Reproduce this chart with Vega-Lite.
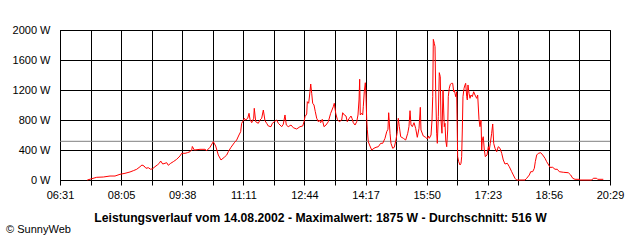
{
  "$schema": "https://vega.github.io/schema/vega-lite/v6.json",
  "autosize": "none",
  "width": 550,
  "height": 150,
  "padding": {"left": 60, "top": 30, "right": 30, "bottom": 60},
  "background": "white",
  "config": {
    "font": "Liberation Sans",
    "view": {"stroke": "black", "strokeWidth": 1},
    "axis": {
      "labelFont": "Liberation Sans",
      "labelFontSize": 11,
      "labelColor": "black",
      "grid": true,
      "gridColor": "black",
      "gridOpacity": 1,
      "gridWidth": 1,
      "domainColor": "black",
      "tickColor": "black"
    }
  },
  "title": {
    "text": "© SunnyWeb",
    "orient": "bottom",
    "anchor": "start",
    "frame": "bounds",
    "font": "Liberation Sans",
    "fontSize": 11,
    "fontWeight": "normal",
    "color": "black",
    "offset": 1,
    "dx": -6
  },
  "layer": [
    {
      "data": {"values": [{"avg": 516}]},
      "mark": {"type": "rule", "color": "#808080", "strokeWidth": 1},
      "encoding": {
        "y": {
          "field": "avg",
          "type": "quantitative",
          "scale": {"domain": [0, 2000], "nice": false},
          "axis": {
            "title": null,
            "values": [0, 400, 800, 1200, 1600, 2000],
            "labelExpr": "datum.value + ' W'",
            "ticks": false,
            "labelPadding": 10,
            "labelOverlap": false,
            "labelFlush": false
          }
        }
      }
    },
    {
      "data": {"values": [
        {"m":432.6,"w":0},{"m":439.3,"w":17},{"m":446.9,"w":36},{"m":457.0,"w":40},{"m":467.2,"w":53},{"m":474.8,"w":53},{"m":482.4,"w":76},{"m":490.0,"w":89},{"m":497.7,"w":107},{"m":502.7,"w":124},{"m":507.9,"w":143},{"m":512.9,"w":177},{"m":515.9,"w":200},{"m":519.0,"w":187},{"m":522.0,"w":156},{"m":525.5,"w":164},{"m":529.2,"w":143},{"m":532.2,"w":151},{"m":535.7,"w":177},{"m":539.2,"w":200},{"m":542.3,"w":223},{"m":544.4,"w":253},{"m":547.5,"w":213},{"m":551.0,"w":223},{"m":553.6,"w":231},{"m":556.0,"w":196},{"m":559.7,"w":223},{"m":563.6,"w":244},{"m":568.8,"w":276},{"m":573.8,"w":320},{"m":576.4,"w":356},{"m":581.5,"w":356},{"m":585.0,"w":364},{"m":589.1,"w":377},{"m":591.7,"w":400},{"m":592.6,"w":447},{"m":595.6,"w":400},{"m":604.3,"w":409},{"m":611.9,"w":409},{"m":614.5,"w":391},{"m":619.5,"w":436},{"m":624.6,"w":511},{"m":628.2,"w":453},{"m":632.2,"w":333},{"m":636.3,"w":267},{"m":641.3,"w":303},{"m":645.0,"w":333},{"m":647.4,"w":377},{"m":651.5,"w":436},{"m":656.6,"w":497},{"m":660.2,"w":533},{"m":663.7,"w":600},{"m":666.3,"w":644},{"m":667.8,"w":756},{"m":670.3,"w":791},{"m":671.8,"w":823},{"m":673.9,"w":800},{"m":677.0,"w":823},{"m":679.0,"w":889},{"m":680.5,"w":809},{"m":683.1,"w":764},{"m":686.1,"w":823},{"m":687.0,"w":956},{"m":689.2,"w":777},{"m":693.1,"w":756},{"m":695.7,"w":800},{"m":698.3,"w":823},{"m":700.8,"w":933},{"m":703.3,"w":791},{"m":705.9,"w":756},{"m":708.4,"w":720},{"m":712.5,"w":711},{"m":714.5,"w":756},{"m":717.5,"w":777},{"m":721.2,"w":800},{"m":723.6,"w":756},{"m":728.8,"w":711},{"m":731.2,"w":743},{"m":733.8,"w":867},{"m":735.8,"w":733},{"m":738.8,"w":711},{"m":743.0,"w":733},{"m":746.5,"w":697},{"m":751.6,"w":680},{"m":756.7,"w":711},{"m":760.8,"w":720},{"m":762.8,"w":777},{"m":764.3,"w":844},{"m":766.9,"w":880},{"m":767.8,"w":1044},{"m":769.9,"w":1023},{"m":771.9,"w":1177},{"m":773.0,"w":1280},{"m":774.5,"w":1156},{"m":776.0,"w":1023},{"m":778.0,"w":1000},{"m":780.0,"w":911},{"m":782.1,"w":823},{"m":784.6,"w":777},{"m":786.1,"w":800},{"m":788.2,"w":764},{"m":790.6,"w":809},{"m":793.2,"w":711},{"m":796.3,"w":733},{"m":799.8,"w":777},{"m":803.4,"w":889},{"m":807.4,"w":977},{"m":808.9,"w":1023},{"m":811.1,"w":889},{"m":813.5,"w":809},{"m":816.6,"w":777},{"m":820.2,"w":800},{"m":821.7,"w":897},{"m":824.2,"w":867},{"m":826.8,"w":853},{"m":828.7,"w":777},{"m":831.8,"w":823},{"m":834.4,"w":853},{"m":835.9,"w":823},{"m":837.9,"w":764},{"m":840.5,"w":733},{"m":843.1,"w":777},{"m":845.0,"w":867},{"m":846.6,"w":1067},{"m":847.6,"w":1343},{"m":848.5,"w":867},{"m":850.7,"w":889},{"m":852.2,"w":867},{"m":853.1,"w":977},{"m":854.6,"w":1177},{"m":856.2,"w":1297},{"m":857.2,"w":1133},{"m":858.3,"w":809},{"m":859.2,"w":676},{"m":860.7,"w":511},{"m":863.3,"w":453},{"m":865.9,"w":400},{"m":869.4,"w":423},{"m":872.5,"w":436},{"m":876.0,"w":444},{"m":879.6,"w":489},{"m":882.7,"w":489},{"m":886.2,"w":556},{"m":888.8,"w":644},{"m":890.7,"w":676},{"m":891.8,"w":897},{"m":893.8,"w":623},{"m":895.3,"w":489},{"m":897.9,"w":423},{"m":900.3,"w":436},{"m":902.9,"w":533},{"m":904.9,"w":644},{"m":906.4,"w":823},{"m":908.0,"w":711},{"m":910.1,"w":577},{"m":914.1,"w":556},{"m":917.7,"w":533},{"m":920.8,"w":623},{"m":922.7,"w":711},{"m":924.3,"w":924},{"m":925.8,"w":733},{"m":927.8,"w":711},{"m":930.4,"w":764},{"m":932.9,"w":689},{"m":935.4,"w":569},{"m":938.0,"w":689},{"m":940.0,"w":969},{"m":941.0,"w":667},{"m":944.5,"w":587},{"m":948.2,"w":569},{"m":950.6,"w":547},{"m":952.2,"w":587},{"m":953.7,"w":556},{"m":956.3,"w":600},{"m":957.8,"w":800},{"m":958.9,"w":1111},{"m":959.8,"w":1875},{"m":961.3,"w":1823},{"m":962.4,"w":1777},{"m":963.4,"w":1200},{"m":964.9,"w":623},{"m":965.9,"w":489},{"m":967.4,"w":844},{"m":968.9,"w":1431},{"m":970.4,"w":1377},{"m":971.5,"w":800},{"m":973.0,"w":623},{"m":974.6,"w":1200},{"m":975.6,"w":933},{"m":976.5,"w":711},{"m":977.6,"w":756},{"m":978.7,"w":533},{"m":980.2,"w":444},{"m":981.7,"w":667},{"m":982.6,"w":1111},{"m":984.1,"w":1223},{"m":985.7,"w":1276},{"m":987.8,"w":1289},{"m":989.3,"w":1289},{"m":990.9,"w":1177},{"m":991.8,"w":1200},{"m":992.8,"w":1156},{"m":993.9,"w":1111},{"m":995.4,"w":1177},{"m":996.9,"w":311},{"m":998.5,"w":244},{"m":1000.5,"w":200},{"m":1002.0,"w":223},{"m":1003.0,"w":311},{"m":1004.0,"w":667},{"m":1005.0,"w":1111},{"m":1006.6,"w":1223},{"m":1008.1,"w":1267},{"m":1009.1,"w":1289},{"m":1010.7,"w":1111},{"m":1011.6,"w":1067},{"m":1012.6,"w":1267},{"m":1014.2,"w":1156},{"m":1015.7,"w":1089},{"m":1017.2,"w":1133},{"m":1019.2,"w":1111},{"m":1021.3,"w":1177},{"m":1023.3,"w":1133},{"m":1025.9,"w":1089},{"m":1027.4,"w":1133},{"m":1029.4,"w":809},{"m":1030.9,"w":711},{"m":1032.5,"w":800},{"m":1033.5,"w":400},{"m":1034.4,"w":533},{"m":1035.9,"w":577},{"m":1037.5,"w":400},{"m":1039.0,"w":311},{"m":1041.6,"w":333},{"m":1043.6,"w":444},{"m":1045.1,"w":400},{"m":1046.6,"w":489},{"m":1048.7,"w":623},{"m":1050.3,"w":747},{"m":1051.8,"w":489},{"m":1053.8,"w":423},{"m":1056.4,"w":377},{"m":1058.8,"w":444},{"m":1061.4,"w":423},{"m":1064.0,"w":356},{"m":1066.4,"w":267},{"m":1069.0,"w":213},{"m":1072.5,"w":223},{"m":1075.6,"w":177},{"m":1079.2,"w":111},{"m":1081.7,"w":67},{"m":1084.2,"w":23},{"m":1086.8,"w":0},{"m":1099.5,"w":0},{"m":1102.1,"w":23},{"m":1106.1,"w":67},{"m":1108.2,"w":111},{"m":1111.2,"w":111},{"m":1113.7,"w":156},{"m":1115.2,"w":244},{"m":1117.3,"w":333},{"m":1119.8,"w":356},{"m":1123.4,"w":364},{"m":1126.5,"w":333},{"m":1130.0,"w":289},{"m":1132.5,"w":244},{"m":1135.6,"w":200},{"m":1137.6,"w":169},{"m":1141.7,"w":169},{"m":1145.2,"w":143},{"m":1148.7,"w":143},{"m":1151.7,"w":111},{"m":1157.8,"w":103},{"m":1165.5,"w":97},{"m":1169.1,"w":67},{"m":1172.2,"w":23},{"m":1175.7,"w":9},{"m":1182.2,"w":9},{"m":1183.3,"w":0},{"m":1201.1,"w":0},{"m":1203.6,"w":23},{"m":1208.7,"w":23},{"m":1210.2,"w":9},{"m":1218.8,"w":9}
      ]},
      "mark": {"type": "line", "color": "#ff0000", "strokeWidth": 1, "interpolate": "linear"},
      "encoding": {
        "x": {
          "field": "m",
          "type": "quantitative",
          "scale": {"domain": [391, 1229], "nice": false, "zero": false},
          "axis": {
            "title": "Leistungsverlauf vom 14.08.2002 - Maximalwert: 1875 W - Durchschnitt: 516 W",
            "titleFont": "Liberation Sans",
            "titleFontSize": 12.2,
            "titleFontWeight": "bold",
            "titleColor": "black",
            "titleAnchor": "start",
            "titleAlign": "center",
            "titleBaseline": "alphabetic",
            "titleX": 260,
            "titleY": 41,
            "values": [391, 437.56, 484.11, 530.67, 577.22, 623.78, 670.33, 716.89, 763.44, 810, 856.56, 903.11, 949.67, 996.22, 1042.78, 1089.33, 1135.89, 1182.44, 1229],
            "labelExpr": "round(datum.index*18) % 2 == 0 ? ['06:31','08:05','09:38','11:11','12:44','14:17','15:50','17:23','18:56','20:29'][round(datum.index*9)] : ''",
            "tickSize": 5,
            "labelPadding": 4,
            "labelFlush": false,
            "labelOverlap": false
          }
        },
        "y": {
          "field": "w",
          "type": "quantitative",
          "scale": {"domain": [0, 2000], "nice": false},
          "axis": {
            "title": null,
            "values": [0, 400, 800, 1200, 1600, 2000],
            "labelExpr": "datum.value + ' W'",
            "ticks": false,
            "labelPadding": 10,
            "labelOverlap": false,
            "labelFlush": false
          }
        }
      }
    }
  ]
}
